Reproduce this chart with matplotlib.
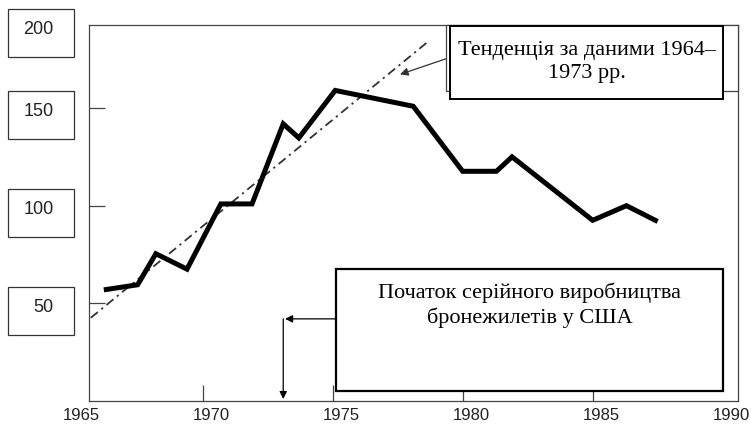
import matplotlib
matplotlib.use("Agg")
import matplotlib.pyplot as plt
from matplotlib.patches import Rectangle
from matplotlib.transforms import offset_copy

# data
years = [1966.2, 1967.5, 1968.2, 1969.4, 1970.7, 1971.9, 1973.1, 1973.7,
         1975.1, 1978.1, 1980.0, 1981.3, 1981.9, 1985.0, 1986.3, 1987.5]
values = [56.9, 59.5, 75.4, 67.5, 100.9, 100.9, 141.9, 134.7,
          159.0, 150.9, 117.6, 117.6, 125.0, 92.5, 100.0, 91.9]
trend_years = [1965.7, 1978.7]
trend_values = [42.6, 184.3]
serial_year = 1973

x_ticks = [1970, 1975, 1980, 1985]
x_labels = [1965, 1970, 1975, 1980, 1985, 1990]
y_ticks = [50, 100, 150]
y_labels = ["200", "150", "100", "50"]

W, H = 751, 424
fig = plt.figure(figsize=(W / 100, H / 100), dpi=100)
ax = fig.add_axes([89 / W, (H - 401) / H, 649 / W, 376 / H])
ax.set_xlim(1965.63, 1990.59)
ax.set_ylim(0, 192.5)

ax.plot(years, values, color="black", lw=3.6, solid_joinstyle="miter",
        solid_capstyle="butt", zorder=3)
ax.plot(trend_years, trend_values, color="#333333", lw=1.3,
        dashes=(5, 2.5, 1.2, 2.5), zorder=2)

for s in ax.spines.values():
    s.set_color("#444444")
    s.set_linewidth(0.9)
ax.set_xticks(x_ticks)
ax.set_yticks(y_ticks)
ax.tick_params(direction="in", length=11.5, width=0.9, color="#444444",
               labelbottom=False, labelleft=False)

# x labels sit a bit right of their ticks, partly cut by the bottom edge
lab_tr = offset_copy(ax.transData, fig=fig, x=9, y=-14.5, units="dots")
for yr in x_labels:
    ax.text(yr, 0, str(yr), transform=lab_tr, ha="center", va="center",
            fontsize=12, family="Liberation Sans", color="#222222",
            clip_on=False)

# arrows
ax.annotate("", xy=(1977.59, 167.2), xytext=(1979.4, 175.4),
            arrowprops=dict(arrowstyle="-|>", color="#333333", lw=0.9,
                            mutation_scale=12, shrinkA=0, shrinkB=0),
            annotation_clip=False, zorder=4)
ax.annotate("", xy=(serial_year + 0.17, 42.05), xytext=(1975.13, 42.05),
            arrowprops=dict(arrowstyle="-|>", color="black", lw=0.9,
                            mutation_scale=11, shrinkA=0, shrinkB=0),
            annotation_clip=False)
ax.annotate("", xy=(serial_year + 0.1, 1.0), xytext=(serial_year + 0.1, 42.05),
            arrowprops=dict(arrowstyle="-|>", color="black", lw=0.9,
                            mutation_scale=11, shrinkA=0, shrinkB=0),
            annotation_clip=False)

# overlay in pixel coordinates for the boxes
ov = fig.add_axes([0, 0, 1, 1], zorder=5)
ov.set_xlim(0, W)
ov.set_ylim(H, 0)
ov.axis("off")

box_tops = [9, 91, 189, 287]
for lab, top in zip(y_labels, box_tops):
    ov.add_patch(Rectangle((8, top), 66, 48, fill=False, ec="#333333", lw=0.9))
    ov.text(53.5, top + 20.5, lab, ha="right", va="center", fontsize=13,
            family="Liberation Sans", color="#222222")

ov.add_patch(Rectangle((446, 25), 292, 66, fc="white", ec="#444444", lw=0.9))
ov.add_patch(Rectangle((450, 26), 273, 73, fc="white", ec="black", lw=1.4))
ov.text(586.5, 78, "Тенденція за даними 1964–\n1973 рр.", ha="center",
        va="baseline", fontsize=16, family="Liberation Serif",
        linespacing=1.3, color="black")

ov.add_patch(Rectangle((336, 269), 387, 122, fc="white", ec="black", lw=1.6))
ov.text(530, 323, "Початок серійного виробництва\nбронежилетів у США",
        ha="center", va="baseline", fontsize=16, family="Liberation Serif",
        linespacing=1.3, color="black")

fig.savefig("out.png", dpi=100)
